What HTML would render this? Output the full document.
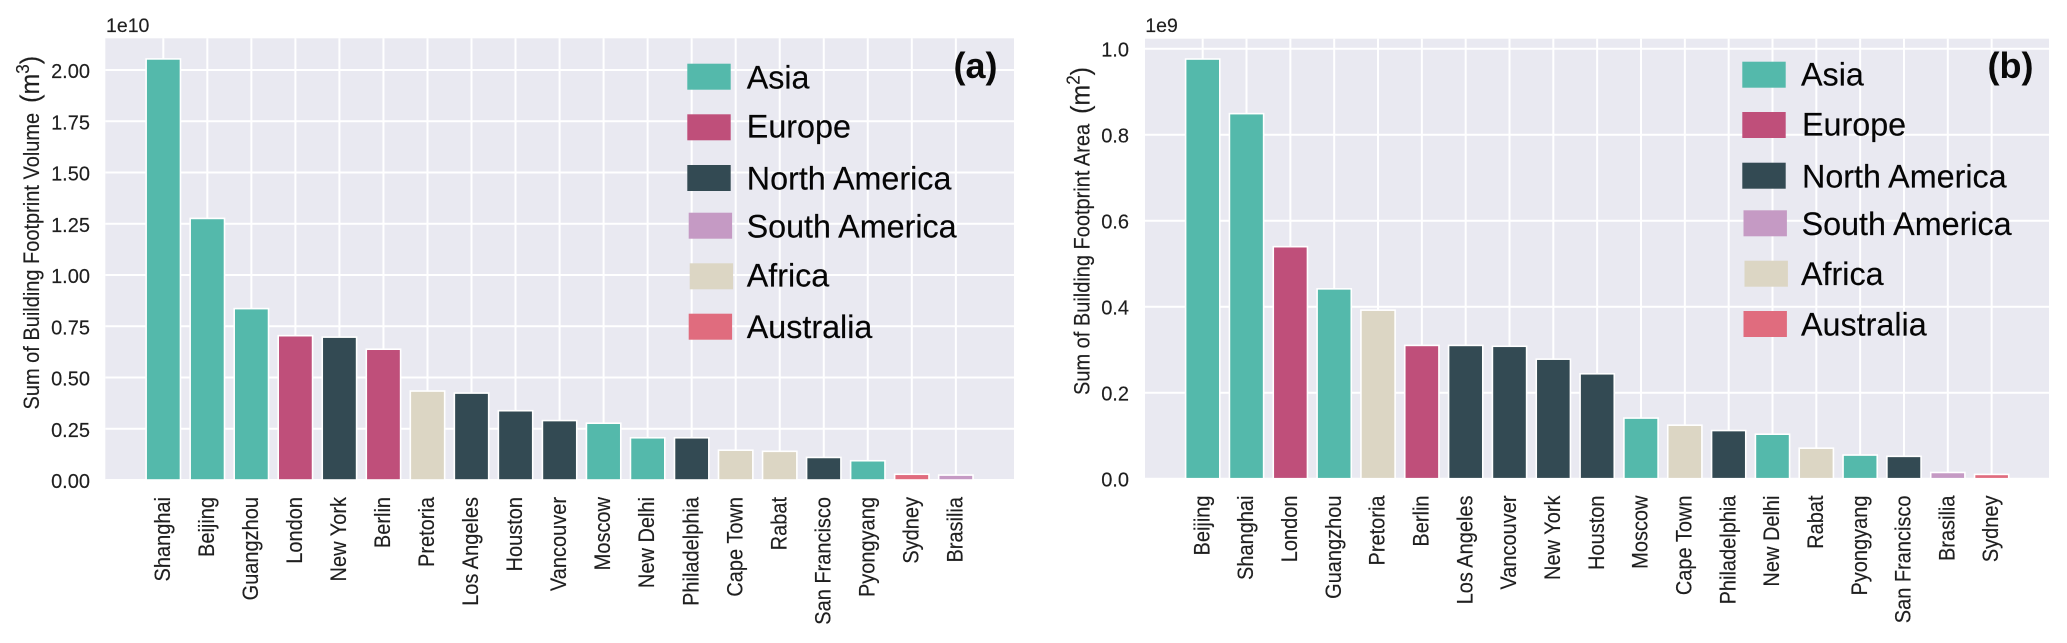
<!DOCTYPE html>
<html lang="en">
<head>
<meta charset="utf-8">
<title>Sum of Building Footprint Volume and Area by City</title>
<style>
  html, body { margin: 0; padding: 0; background: #ffffff; }
  body { width: 2067px; height: 643px; overflow: hidden; }
  svg { display: block; font-family: "Liberation Sans", Arial, sans-serif; }
  text { fill: #1f1f1f; stroke: #1f1f1f; stroke-width: 0.15px; }
  .legend-label { font-size: 32.3px; fill: #060606; stroke: #060606; }
  .panel-tag { font-size: 36px; font-weight: bold; fill: #0a0a0a; stroke: none; }
</style>
</head>
<body>
<svg id="figure" xmlns="http://www.w3.org/2000/svg" width="2067" height="643" viewBox="0 0 2067 643">
  <g id="panel-a">
    <rect x="105.3" y="38.3" width="908.7" height="441.7" fill="#e9e9f1"/>
    <g id="grid-a"></g>
    <g id="bars-a"></g>
    <g id="yticks-a"></g>
    <g id="xticks-a"></g>
    <text x="106" y="32" font-size="19.5">1e10</text>
    <text transform="translate(39,409.5) rotate(-90) scale(1,1.09)" font-size="20">Sum of Building Footprint Volume<tspan font-size="25" dx="10">(m</tspan><tspan font-size="17" dy="-9">3</tspan><tspan font-size="25" dy="9">)</tspan></text>
    <g>
      <g><rect x="687.3" y="63.7" width="43.4" height="26" fill="#54b9ab"/><text class="legend-label" x="746.7" y="88.3">Asia</text></g>
      <g><rect x="687.3" y="114.3" width="43.4" height="26" fill="#bf4f7a"/><text class="legend-label" x="746.8" y="137.7">Europe</text></g>
      <g><rect x="687.3" y="165" width="43.4" height="26" fill="#334a53"/><text class="legend-label" x="746.8" y="189.3">North America</text></g>
      <g><rect x="688.7" y="212.7" width="43.4" height="26" fill="#c59ac4"/><text class="legend-label" x="746.6" y="237.3">South America</text></g>
      <g><rect x="689.7" y="263.3" width="43.4" height="26" fill="#dcd6c4"/><text class="legend-label" x="746.7" y="286.7">Africa</text></g>
      <g><rect x="688.7" y="313.7" width="43.4" height="26" fill="#e06c7e"/><text class="legend-label" x="746.7" y="338">Australia</text></g>
    </g>
    <text class="panel-tag" x="953.5" y="78">(a)</text>
  </g>
  <g id="panel-b">
    <rect x="1145" y="38.7" width="904" height="440" fill="#e9e9f1"/>
    <g id="grid-b"></g>
    <g id="bars-b"></g>
    <g id="yticks-b"></g>
    <g id="xticks-b"></g>
    <text x="1145.3" y="32" font-size="19.5">1e9</text>
    <text transform="translate(1089.3,395) rotate(-90) scale(1,1.09)" font-size="20">Sum of Building Footprint Area<tspan font-size="25" dx="10">(m</tspan><tspan font-size="17" dy="-9">2</tspan><tspan font-size="25" dy="9">)</tspan></text>
    <g>
      <g><rect x="1742.3" y="61.7" width="43.4" height="26" fill="#54b9ab"/><text class="legend-label" x="1801" y="85.5">Asia</text></g>
      <g><rect x="1742.3" y="112" width="43.4" height="26" fill="#bf4f7a"/><text class="legend-label" x="1802" y="135.7">Europe</text></g>
      <g><rect x="1742.3" y="162.7" width="43.4" height="26" fill="#334a53"/><text class="legend-label" x="1802" y="187.3">North America</text></g>
      <g><rect x="1743.5" y="210.3" width="43.4" height="26" fill="#c59ac4"/><text class="legend-label" x="1801.6" y="235">South America</text></g>
      <g><rect x="1744.5" y="260.7" width="43.4" height="26" fill="#dcd6c4"/><text class="legend-label" x="1801" y="285">Africa</text></g>
      <g><rect x="1743.5" y="311" width="43.4" height="26" fill="#e06c7e"/><text class="legend-label" x="1801" y="335.7">Australia</text></g>
    </g>
    <text class="panel-tag" x="1987.5" y="78">(b)</text>
  </g>
</svg>
<script>
const continentColors = {
  Asia: '#54b9ab',
  Europe: '#bf4f7a',
  NorthAmerica: '#334a53',
  SouthAmerica: '#c59ac4',
  Africa: '#dcd6c4',
  Australia: '#e06c7e'
};

const citiesA = ['Shanghai','Beijing','Guangzhou','London','New York','Berlin','Pretoria','Los Angeles','Houston','Vancouver','Moscow','New Delhi','Philadelphia','Cape Town','Rabat','San Francisco','Pyongyang','Sydney','Brasilia'];
const continentsA = ['Asia','Asia','Asia','Europe','NorthAmerica','Europe','Africa','NorthAmerica','NorthAmerica','NorthAmerica','Asia','Asia','NorthAmerica','Africa','Africa','NorthAmerica','Asia','Australia','SouthAmerica'];
const valuesA = [2.054,1.276,0.836,0.704,0.697,0.638,0.434,0.424,0.338,0.29,0.277,0.206,0.206,0.1455,0.14,0.11,0.094,0.028,0.024];
const tickValuesA = [0,0.25,0.5,0.75,1,1.25,1.5,1.75,2];
const tickLabelsA = ['0.00','0.25','0.50','0.75','1.00','1.25','1.50','1.75','2.00'];

const citiesB = ['Beijing','Shanghai','London','Guangzhou','Pretoria','Berlin','Los Angeles','Vancouver','New York','Houston','Moscow','Cape Town','Philadelphia','New Delhi','Rabat','Pyongyang','San Francisco','Brasilia','Sydney'];
const continentsB = ['Asia','Asia','Europe','Asia','Africa','Europe','NorthAmerica','NorthAmerica','NorthAmerica','NorthAmerica','Asia','Africa','NorthAmerica','Asia','Africa','Asia','NorthAmerica','SouthAmerica','Australia'];
const valuesB = [0.976,0.849,0.5396,0.4415,0.392,0.31,0.31,0.308,0.278,0.244,0.141,0.1245,0.112,0.1035,0.071,0.055,0.052,0.0145,0.01];
const tickValuesB = [0,0.2,0.4,0.6,0.8,1];
const tickLabelsB = ['0.0','0.2','0.4','0.6','0.8','1.0'];

const SVG_NS = 'http://www.w3.org/2000/svg';

function make(tag, attrs, parent) {
  const el = document.createElementNS(SVG_NS, tag);
  for (const key in attrs) el.setAttribute(key, attrs[key]);
  parent.appendChild(el);
  return el;
}

function slug(text) {
  return text.toLowerCase().replace(/[^a-z0-9]+/g, '-');
}

function drawPanel(suffix, cities, continents, values, tickValues, tickLabels, x, y, box, step) {
  const grid = document.getElementById('grid-' + suffix);
  const bars = document.getElementById('bars-' + suffix);
  const yticks = document.getElementById('yticks-' + suffix);
  const xticks = document.getElementById('xticks-' + suffix);

  tickValues.forEach(function (tick, i) {
    const line = make('line', { x1: box.left, x2: box.right, y1: y(tick), y2: y(tick), stroke: '#ffffff', 'stroke-width': 2 }, grid);
    
    
    const label = make('text', { x: box.tickRight, y: y(tick) + 8, 'text-anchor': 'end', 'font-size': 20 }, yticks);
    
    
    label.textContent = tickLabels[i];
  });

  cities.forEach(function (city, i) {
    const cx = x(i);
    const line = make('line', { x1: cx, x2: cx, y1: box.top, y2: box.bottom, stroke: '#ffffff', 'stroke-width': 2 }, grid);
    
    

    const width = step * 0.78;
    const bar = make('rect', {
      x: cx - width / 2,
      y: y(values[i]),
      width: width,
      height: y(0) - y(values[i]),
      fill: continentColors[continents[i]],
      stroke: '#ffffff',
      'stroke-width': 1.6
    }, bars);
    
    

    const label = make('text', {
      transform: 'translate(' + (cx + 6.6) + ',' + box.labelTop + ') rotate(-90) scale(1,1.09)',
      'text-anchor': 'end',
      'font-size': 20
    }, xticks);
    
    
    label.textContent = city;
  });
}

function xA(i) { return 163.3 + 44.03 * i; }
function yA(v) { return 480 - 205 * v; }
function xB(i) { return 1202.7 + 43.83 * i; }
function yB(v) { return 478.7 - 430 * v; }

drawPanel('a', citiesA, continentsA, valuesA, tickValuesA, tickLabelsA, xA, yA,
  { left: 105.3, right: 1014, top: 38.3, bottom: 480, tickRight: 90, labelTop: 497 }, 44.03);
drawPanel('b', citiesB, continentsB, valuesB, tickValuesB, tickLabelsB, xB, yB,
  { left: 1145, right: 2049, top: 38.7, bottom: 478.7, tickRight: 1129, labelTop: 495.5 }, 43.83);
</script>
</body>
</html>
